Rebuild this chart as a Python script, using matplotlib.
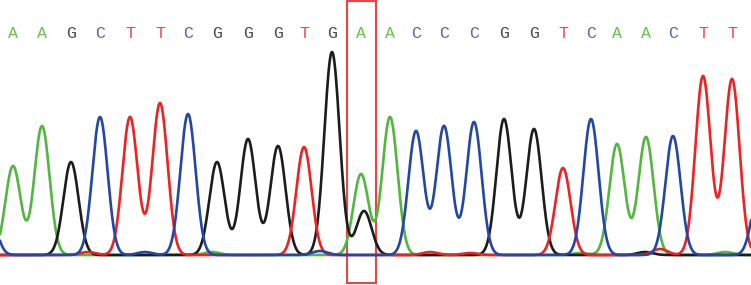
import numpy as np
import matplotlib
matplotlib.use("Agg")
import matplotlib.pyplot as plt
from matplotlib.patches import Rectangle

# base calls along the read, with the scan position and height of each called peak
bases = list("AAGCTTCGGGTGAACCCGGTCAACTT")
call_pos = [13, 42, 71, 100, 130, 160, 188, 217, 248, 278, 304, 332, 361,
            390, 416, 444, 474, 504, 534, 563, 591, 617, 646, 673, 703, 732]
call_height = [89, 129, 93, 138, 138, 152, 141, 93, 116, 109, 108, 203, 81,
               138, 124, 129, 133, 136, 126, 87, 136, 111, 118, 119, 179, 176]

# secondary peaks and baseline noise: channel, scan position, height
extra_base = ["C", "G", "C", "T", "C", "A", "C", "T", "T", "G", "T", "A", "A"]
extra_pos = [-12, 364, 760, 88, 145, 212, 320, 430, 470, 645, 660, 725, 580]
extra_height = [50, 44, 70, 3, 3, 3, 4, 3, 2, 3, 6, 3, 2]

boxed = 12  # index of the highlighted call

_TRACE = {"A": "#52b640", "G": "#1c1c1c", "T": "#ee2222", "C": "#2447a6"}
_LETTER = {"A": "#6cbf4c", "G": "#4a4a4a", "T": "#e84a4a", "C": "#5566b4"}
_SIGMA = 7.6

scan = np.linspace(0, 751, 1503)


def trace(channel):
    y = np.zeros_like(scan)
    for b, p, h in zip(bases + extra_base, call_pos + extra_pos, call_height + extra_height):
        if b == channel:
            y += h * np.exp(-((scan - p) ** 2) / (2 * _SIGMA ** 2))
    return y


fig = plt.figure(figsize=(7.51, 2.85), dpi=100)
ax = fig.add_axes([0, 0, 1, 1])
ax.set_xlim(0, 751)
ax.set_ylim(-30, 255)
ax.axis("off")

for ch in ("A", "G", "T", "C"):
    ax.plot(scan, trace(ch), color=_TRACE[ch], lw=1.9, solid_capstyle="round")

for b, p in zip(bases, call_pos):
    ax.text(p, 222, b, color=_LETTER[b], fontsize=12, family="Liberation Mono",
            ha="center", va="center")

ax.add_patch(Rectangle((call_pos[boxed] - 14, -28), 29, 282, fill=False,
                       edgecolor="#e84545", lw=1.5))

fig.savefig("out.png", dpi=100, facecolor="white")
